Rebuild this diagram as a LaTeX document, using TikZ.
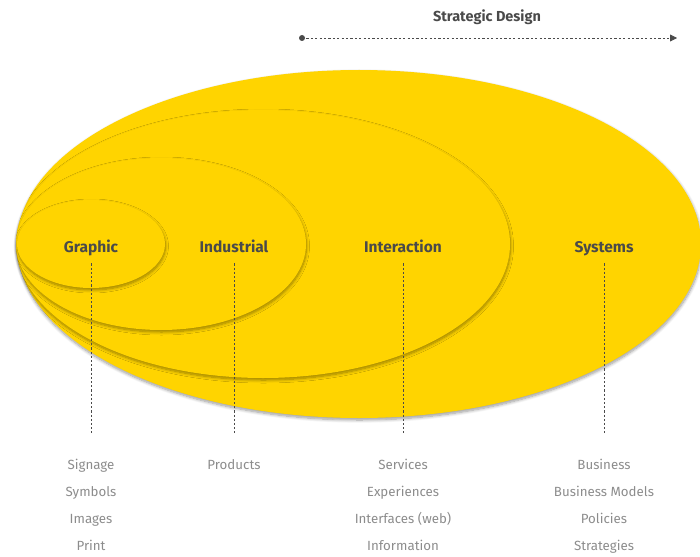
\documentclass[tikz,border=0pt]{standalone}
\usepackage{fontspec}
\setmainfont{Fira Sans}
\usetikzlibrary{shadows.blur,arrows.meta}
\definecolor{gold}{HTML}{FFD400}
\definecolor{ink}{HTML}{4A4A4A}
\definecolor{soft}{HTML}{8C8C8C}
\tikzset{
  layer/.style={fill=gold, blur shadow={shadow xshift=0.5pt, shadow yshift=-2pt,
      shadow blur radius=3pt, shadow blur steps=8, shadow opacity=40}},
  field/.style={font=\bfseries\fontsize{15.5}{18}\selectfont, text=ink, inner sep=4pt,
      text height=11pt, text depth=3.5pt},
  item/.style={font=\fontsize{13.3}{16}\selectfont, text=soft, text height=9.5pt, text depth=3pt, inner sep=0pt},
  guide/.style={draw=ink, line width=0.8pt, dash pattern=on 2.2pt off 2pt, shorten <=3pt},
  scale line/.style={draw=ink, line width=0.8pt, dash pattern=on 2.2pt off 2.2pt}
}
\begin{document}
\begin{tikzpicture}[x=1pt,y=-1pt]
\useasboundingbox (0,0) rectangle (700,556);
\begin{scope}
\clip (0,0) rectangle (700,556);
% nested fields of design, largest first
\path[layer] (359,244) ellipse [x radius=342pt, y radius=174pt];
\path[layer] (263,244) ellipse [x radius=247pt, y radius=134pt];
\path[layer] (161,244) ellipse [x radius=145pt, y radius=86pt];
\path[layer] (91,244) ellipse [x radius=74pt, y radius=44pt];
\end{scope}

% strategic design scale
\node[font=\bfseries\fontsize{14.5}{17}\selectfont, text=ink] (sd) at (487,17) {Strategic Design};
\coordinate (sdl) at (302,38);
\coordinate (sdr) at (677,38);
\fill[ink] (sdl) circle (3pt);
\draw[scale line, -{Triangle[length=7pt,width=7pt]}] (sdl) -- (sdr);

% field labels
\node[field] (gr) at (91,249) {Graphic};
\node[field] (in) at (234,249) {Industrial};
\node[field] (ix) at (403,249) {Interaction};
\node[field] (sy) at (604,249) {Systems};

\coordinate (grb) at (91,433);
\coordinate (inb) at (234,433);
\coordinate (ixb) at (403,433);
\coordinate (syb) at (604,433);
\draw[guide] (gr) -- (grb);
\draw[guide] (in) -- (inb);
\draw[guide] (ix) -- (ixb);
\draw[guide] (sy) -- (syb);

% examples for each field
\foreach \t [count=\k] in {Signage,Symbols,Images,Print}
  \node[item] (gr\k) at (91,439+27*\k) {\t};
\node[item] (in1) at (234,466) {Products};
\foreach \t [count=\k] in {Services,Experiences,Interfaces (web),Information}
  \node[item] (ix\k) at (403,439+27*\k) {\t};
\foreach \t [count=\k] in {Business,Business Models,Policies,Strategies}
  \node[item] (sy\k) at (604,439+27*\k) {\t};
\end{tikzpicture}
\end{document}
